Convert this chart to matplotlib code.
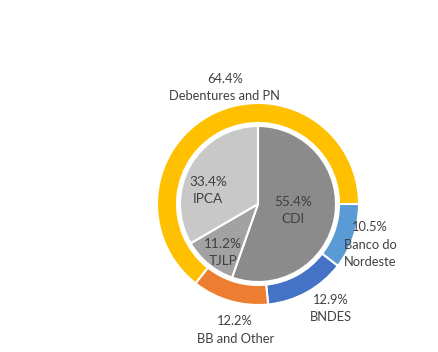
import numpy as np
import matplotlib
matplotlib.use("Agg")
import matplotlib.pyplot as plt

# outer ring: funding sources
outer_names = ["Debentures and PN", "Banco do\nNordeste", "BNDES", "BB and Other"]
outer_pct = [64.4, 10.5, 12.9, 12.2]
outer_colors = ["#FFC000", "#5B9BD5", "#4472C4", "#ED7D31"]

# inner pie: indexers
inner_names = ["CDI", "TJLP", "IPCA"]
inner_pct = [55.4, 11.2, 33.4]
inner_colors = ["#8B8B8B", "#A2A2A2", "#C8C8C8"]

# label placement (angle offset in deg, radial factor) - tuned by eye
outer_lab = [(-10, 1.20), (-1, 1.18), (6, 1.26), (6, 1.27)]
inner_lab = [(-1, 0.46), (4, 0.77), (15, 0.66)]

W, H = 439, 352
cx, cy = 258, 204
R = 101
ring_w = 20
r_in = 78

plt.rcParams['font.family'] = ['Lato', 'DejaVu Sans']
fig = plt.figure(figsize=(W / 100, H / 100), dpi=100)
ax = fig.add_axes([0, 0, 1, 1])

wo, _ = ax.pie(outer_pct, colors=outer_colors, radius=R, startangle=360 * outer_pct[0] / 100,
               counterclock=False, wedgeprops=dict(width=ring_w, edgecolor="white", linewidth=1.5))
wi, _ = ax.pie(inner_pct, colors=inner_colors, radius=r_in, startangle=90,
               counterclock=False, wedgeprops=dict(edgecolor="white", linewidth=1.5))

# pixel-like data coords so the pie sits where it does in the original
ax.set_xlim(-cx, W - cx)
ax.set_ylim(-(H - cy), cy)
ax.set_aspect("equal")
ax.axis("off")

txt = "#404040"
for w, name, p, (da, f) in zip(wo, outer_names, outer_pct, outer_lab):
    a = np.deg2rad((w.theta1 + w.theta2) / 2 + da)
    ax.text(R * f * np.cos(a), R * f * np.sin(a), f"{p:.1f}%\n{name}", ha="center", va="center",
            fontsize=9.3, color=txt, linespacing=1.55)

for w, name, p, (da, f) in zip(wi, inner_names, inner_pct, inner_lab):
    a = np.deg2rad((w.theta1 + w.theta2) / 2 + da)
    ax.text(r_in * f * np.cos(a), r_in * f * np.sin(a), f"{p:.1f}%\n{name}", ha="center", va="center",
            fontsize=9.8, color=txt, linespacing=1.5)

fig.savefig("out.png", dpi=100)
